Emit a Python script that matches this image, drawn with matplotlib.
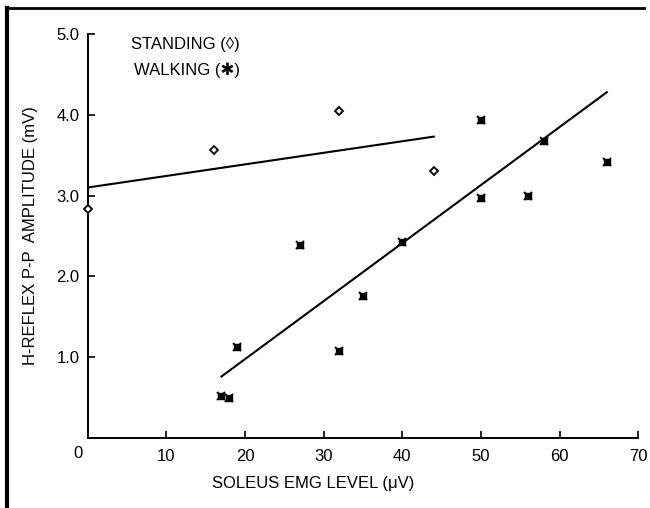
import numpy as np
import matplotlib
matplotlib.use("Agg")
import matplotlib.pyplot as plt
from matplotlib.lines import Line2D

plt.rcParams['font.family'] = ['Liberation Sans', 'DejaVu Sans']

# standing data (open diamonds)
stand_x = [0, 16, 32, 44]
stand_y = [2.83, 3.56, 4.05, 3.31]
# walking data (filled star-squares)
walk_x = [17, 18, 19, 27, 32, 35, 40, 50, 50, 56, 58, 66]
walk_y = [0.52, 0.49, 1.13, 2.39, 1.08, 1.76, 2.42, 3.93, 2.97, 3.00, 3.67, 3.42]

# fitted lines as drawn (endpoints)
stand_fit_x = [0, 44]
stand_fit_y = [3.10, 3.73]
walk_fit_x = [17, 66]
walk_fit_y = [0.76, 4.28]

x_ticks = [10, 20, 30, 40, 50, 60, 70]
y_ticks = [1, 2, 3, 4, 5]
y_ticklabels = ["1.0", "2.0", "3.0", "4.0", "5.0"]

fig = plt.figure(figsize=(6.5, 5.08), dpi=100)
ax = fig.add_axes([0.135, 0.138, 0.847, 0.795])

ax.plot(stand_fit_x, stand_fit_y, color='black', lw=1.5)
ax.plot(walk_fit_x, walk_fit_y, color='black', lw=1.5)

ax.plot(stand_x, stand_y, linestyle='none', marker='D', markersize=4,
        markerfacecolor='white', markeredgecolor='black', markeredgewidth=1.3,
        clip_on=False, zorder=5)
ax.plot(walk_x, walk_y, linestyle='none', marker='s', markersize=4.5,
        color='black', zorder=5)
ax.plot(walk_x, walk_y, linestyle='none', marker='x', markersize=6,
        markeredgewidth=1.4, color='black', zorder=5)

ax.set_xlim(0, 70)
ax.set_ylim(0, 5)
ax.spines['top'].set_visible(False)
ax.spines['right'].set_visible(False)
ax.spines['left'].set_linewidth(1.4)
ax.spines['bottom'].set_linewidth(1.4)

ax.set_xticks(x_ticks)
ax.set_xticklabels([str(t) for t in x_ticks])
ax.set_yticks(y_ticks)
ax.set_yticklabels(y_ticklabels)
ax.tick_params(direction='in', length=5, width=1.2, labelsize=12, pad=6)
ax.tick_params(axis='x', pad=8)

ax.text(-0.6, -0.1, "0", ha='right', va='top', fontsize=12)

ax.set_xlabel("SOLEUS EMG LEVEL (\u03bcV)", fontsize=12)
ax.xaxis.set_label_coords(0.41, -0.095)
ax.set_ylabel("H-REFLEX P-P  AMPLITUDE (mV)", fontsize=12)
ax.yaxis.set_label_coords(-0.09, 0.5)

ax.text(0.177, 0.975, "STANDING (\u25ca)", transform=ax.transAxes,
        ha='center', va='center', fontsize=12)
ax.text(0.18, 0.91, "WALKING (\u2731)", transform=ax.transAxes,
        ha='center', va='center', fontsize=12)

# page frame
fig.add_artist(Line2D([0.011, 0.011], [0.0, 0.985], transform=fig.transFigure,
                      color='black', lw=3))
fig.add_artist(Line2D([0.011, 0.99], [0.985, 0.985], transform=fig.transFigure,
                      color='black', lw=2))

fig.savefig("out.png", dpi=100)
